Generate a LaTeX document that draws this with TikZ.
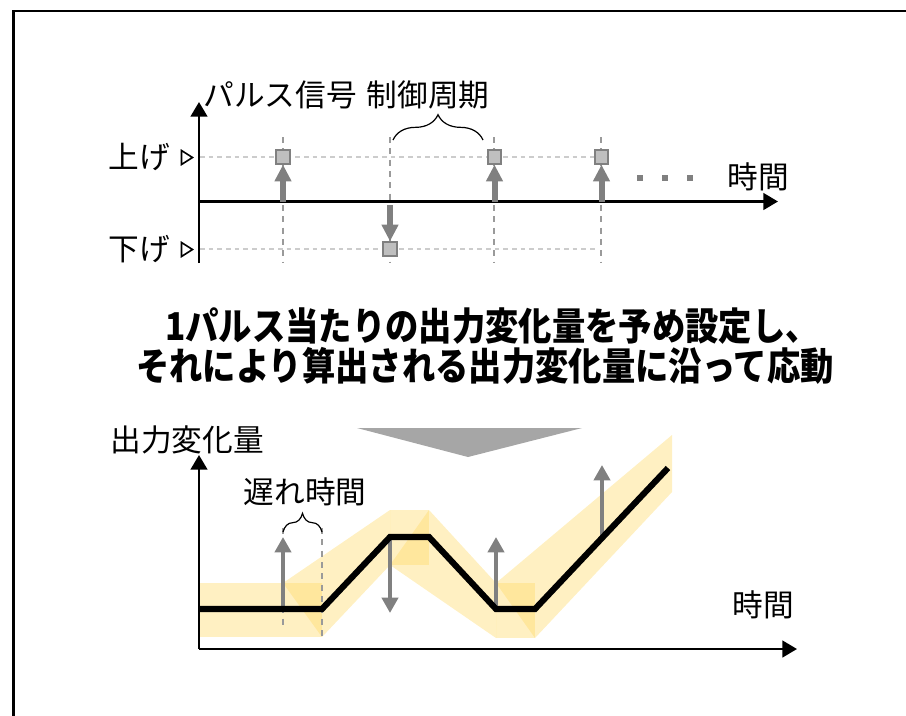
\documentclass[tikz,border=0pt]{standalone}
\usepackage{fontspec}
\setmainfont{Noto Sans CJK JP}[BoldFont={Noto Sans CJK JP Bold}]
\IfFontExistsTF{Noto Sans CJK JP Black}{\newfontfamily\heavyfont{Noto Sans CJK JP Black}}{\newfontfamily\heavyfont{Noto Sans CJK JP Bold}}
\usetikzlibrary{arrows.meta,decorations.pathreplacing}
\definecolor{pgray}{HTML}{808080}
\definecolor{pfill}{HTML}{BFBFBF}
\definecolor{lgray}{HTML}{CCCCCC}
\definecolor{mgray}{HTML}{9A9A9A}
\definecolor{trig}{HTML}{A6A6A6}
\definecolor{bandc}{HTML}{FFD966}
\begin{document}
\begin{tikzpicture}[x=0.75pt,y=-0.75pt,
  lbl/.style={inner sep=0pt, font=\fontsize{23pt}{27pt}\selectfont},
  ttl/.style={inner sep=0pt, font=\fontsize{25pt}{30pt}\selectfont\heavyfont},
  axis/.style={line width=1.9pt, -{Triangle[width=12.5pt,length=11pt]}},
  pulsebox/.style={draw=pgray, fill=pfill, line width=1.5pt, minimum size=10pt, inner sep=0pt},
  parrowtop/.style={draw=pgray, line width=4.5pt, -{Triangle[width=12pt,length=12.5pt]}},
  parrowbot/.style={draw=pgray, line width=3pt, -{Triangle[width=12pt,length=11.5pt]}},
  hgrid/.style={draw=lgray, line width=0.9pt, dash pattern=on 3.5pt off 3pt},
  vgrid/.style={draw=mgray, line width=0.9pt, dash pattern=on 4.5pt off 4pt},
  band/.style={fill=bandc, fill opacity=0.4},
  mark3/.style={fill=pgray, minimum size=4.5pt, inner sep=0pt},
  tri/.style={draw=black, line width=1.2pt, line join=miter},
  bracefig/.style={draw=black, line width=0.9pt, decorate},
]
\useasboundingbox (0,0) rectangle (906,715);
\clip (0,0) rectangle (906,715);
% frame
\draw[line width=2.2pt] (13.5,11) rectangle (940,760);

% ===== top chart =====
\coordinate (yaxB) at (199,263);
\coordinate (yaxT) at (199,102);
\coordinate (xaxL) at (199,201.5);
\coordinate (xaxR) at (778,201.5);
% grid
\draw[hgrid] (200,157) -- (601,157);
\draw[hgrid] (200,249) -- (597,249);
\foreach \xx/\nm in {283/a,390/b,494/c,601/d}{
  \coordinate (vt\nm) at (\xx,137);
  \coordinate (vb\nm) at (\xx,263);
  \draw[vgrid] (vt\nm) -- (vb\nm);
}
% axes
\draw[axis] (yaxB) -- (yaxT);
\draw[axis] (xaxL) -- (xaxR);
% pulse boxes
\node[pulsebox] (p1) at (283,157) {};
\node[pulsebox] (p2) at (390,249) {};
\node[pulsebox] (p3) at (494.5,157) {};
\node[pulsebox] (p4) at (601.5,157) {};
\coordinate (s1) at (283,202);
\coordinate (s2) at (390,205);
\coordinate (s3) at (494.5,202);
\coordinate (s4) at (601.5,202);
\draw[parrowtop] (s1) -- (p1.south);
\draw[parrowtop] (s2) -- (p2.north);
\draw[parrowtop] (s3) -- (p3.south);
\draw[parrowtop] (s4) -- (p4.south);
% dots
\node[mark3] (d1) at (640,178) {};
\node[mark3] (d2) at (665,178) {};
\node[mark3] (d3) at (690,178) {};
% labels
\node[lbl] (lpulse) at (280,95) {パルス信号};
\node[lbl] (lcycle) at (428,95) {制御周期};
\node[lbl] (ltime1) at (758,177) {時間};
\node[lbl] (lup) at (139,157) {上げ};
\node[lbl] (ldown) at (139,249) {下げ};
\draw[tri] (181.5,150.5) -- (181.5,164.5) -- (192.5,157.5) -- cycle;
\draw[tri] (181.5,242.5) -- (181.5,256.5) -- (192.5,249.5) -- cycle;
% brace
\coordinate (br1) at (393,140);
\coordinate (br2) at (483,140);
\draw[bracefig, decoration={brace,amplitude=19pt}] (br1) -- (br2);

% ===== title =====
\node[ttl] (t1) at (492,326) {\scalebox{1}[1.15]{1パルス当たりの出力変化量を予め設定し、}};
\node[ttl] (t2) at (485,366) {\scalebox{1}[1.15]{それにより算出される出力変化量に沿って応動}};

% big triangle
\fill[trig] (357,428) -- (582,428) -- (468,457) -- cycle;

% ===== bottom chart =====
% yellow band
\fill[band] (200,583) rectangle (322,637);
\fill[band] (283,583) -- (390,510) -- (390,565) -- (322,637) -- cycle;
\fill[band] (390,510) rectangle (429,565);
\fill[band] (390,565) -- (429,510) -- (496,583) -- (496,638) -- cycle;
\fill[band] (496,583) rectangle (535,638);
\fill[band] (496,583) -- (672,435) -- (672,492) -- (535,638) -- cycle;
% delay dashed lines
\coordinate (dl1t) at (283,528);
\coordinate (dl1b) at (283,628);
\coordinate (dl2t) at (322,528);
\coordinate (dl2b) at (322,637);
\draw[vgrid] (dl1t) -- (dl1b);
\draw[vgrid] (dl2t) -- (dl2b);
% axes
\coordinate (Yb) at (199,649);
\coordinate (Yt) at (199,455);
\coordinate (Xr) at (797,649);
\draw[axis] (Yb) -- (Yt);
\draw[axis] (Yb) -- (Xr);
% arrows
\coordinate (a1s) at (283,609); \coordinate (a1e) at (283,537);
\coordinate (a2s) at (390,537); \coordinate (a2e) at (390,613);
\coordinate (a3s) at (496,609); \coordinate (a3e) at (496,537);
\coordinate (a4s) at (602,540); \coordinate (a4e) at (602,465);
\draw[parrowbot] (a1s) -- (a1e);
\draw[parrowbot] (a2s) -- (a2e);
\draw[parrowbot] (a3s) -- (a3e);
\draw[parrowbot] (a4s) -- (a4e);
% output line
\coordinate (o0) at (200,609);
\coordinate (o1) at (322,609);
\coordinate (o2) at (390,537);
\coordinate (o3) at (429,537);
\coordinate (o4) at (496,609);
\coordinate (o5) at (535,609);
\coordinate (o6) at (668,468);
\draw[line width=4.6pt, line join=miter] (o0) -- (o1) -- (o2) -- (o3) -- (o4) -- (o5) -- (o6);
% brace
\coordinate (bb1) at (283,532);
\coordinate (bb2) at (322,532);
\draw[bracefig, decoration={brace,amplitude=14pt}] (bb1) -- (bb2);
% labels
\node[lbl] (lout) at (187,440) {出力変化量};
\node[lbl] (ldelay) at (305,492) {遅れ時間};
\node[lbl] (ltime2) at (763,605) {時間};
\end{tikzpicture}
\end{document}
